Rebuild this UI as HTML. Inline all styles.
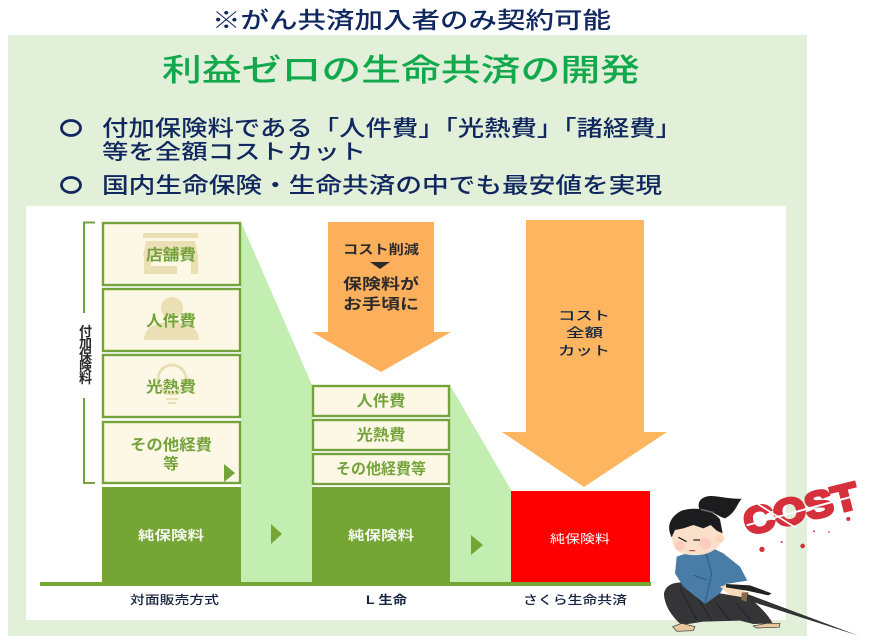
<!DOCTYPE html>
<html lang="ja"><head><meta charset="utf-8"><style>
html,body{margin:0;padding:0;background:#fff}
svg{display:block}
text{font-family:"Liberation Sans","Noto Sans CJK JP",sans-serif}
.n{fill:#10285f;font-weight:500}
.g{fill:#74a33c;font-weight:700}
</style></head><body>
<svg width="870" height="644" viewBox="0 0 870 644" xmlns="http://www.w3.org/2000/svg">
<rect width="870" height="644" fill="#fff"/>
<rect x="8" y="35" width="799" height="601" fill="#e2f0d9"/>
<rect x="26" y="206" width="760" height="414" fill="#fff"/>

<text class="n" x="212" y="28" font-size="23" textLength="399" lengthAdjust="spacingAndGlyphs">※がん共済加入者のみ契約可能</text>
<text x="162" y="81" font-size="31" font-weight="500" fill="#12a84c" textLength="478" lengthAdjust="spacingAndGlyphs">利益ゼロの生命共済の開発</text>
<ellipse cx="71" cy="128" rx="9.500" ry="7.500" fill="none" stroke="#10285f" stroke-width="2.800"/>
<ellipse cx="71" cy="185" rx="9.500" ry="7.500" fill="none" stroke="#10285f" stroke-width="2.800"/>
<text class="n" x="102" y="136" font-size="22" textLength="580" lengthAdjust="spacingAndGlyphs">付加保険料である「人件費」「光熱費」「諸経費」</text>
<text class="n" x="102" y="159" font-size="21" textLength="264" lengthAdjust="spacingAndGlyphs">等を全額コストカット</text>
<text class="n" x="102" y="193" font-size="22" textLength="560" lengthAdjust="spacingAndGlyphs">国内生命保険・生命共済の中でも最安値を実現</text>

<polygon points="241,222 312,385 312,582 241,582" fill="#c3eeb1"/>
<polygon points="450,385 511,490 511,582 450,582" fill="#c3eeb1"/>

<path d="M95 222.500H84V313M84 398V483H95" fill="none" stroke="#74a33c" stroke-width="2"/>
<g font-size="13" font-weight="700" fill="#2a2a2a" text-anchor="middle">
<text x="85.500" y="336">付</text><text x="85.500" y="348">加</text><text x="85.500" y="360">保</text><text x="85.500" y="371">険</text><text x="85.500" y="383">料</text>
</g>

<g fill="#fdf8e6" stroke="#74a33c" stroke-width="2.400">
<rect x="103" y="223" width="137" height="62"/>
<rect x="103" y="289" width="137" height="62"/>
<rect x="103" y="355" width="137" height="62"/>
<rect x="103" y="422" width="137" height="61"/>
<rect x="313" y="386" width="136" height="30"/>
<rect x="313" y="420" width="136" height="30"/>
<rect x="313" y="454" width="136" height="30"/>
</g>
<g fill="#ebdfb6">
<rect x="143" y="233" width="55" height="5"/>
<path d="M146 241h49l3 15h-55z"/>
<path d="M144 256h7v18h-7zM191 256h7v18h-7zM151 266h26v8h-26z"/>
<circle cx="172" cy="308" r="11"/>
<path d="M144 340c0-14 14-18 27-18s28 4 28 18z"/>
<circle cx="172" cy="379" r="14" fill="none" stroke="#ebdfb6" stroke-width="3"/>
<rect x="165" y="393" width="14" height="2"/><rect x="166" y="398" width="12" height="2"/><rect x="168" y="402" width="8" height="2"/>
</g>
<polygon points="224,464 235,473 224,482" fill="#74a33c"/>
<g class="g" font-size="15.500" text-anchor="middle">
<text class="g" x="171" y="260" textLength="50" lengthAdjust="spacingAndGlyphs">店舗費</text>
<text class="g" x="171" y="326" textLength="50" lengthAdjust="spacingAndGlyphs">人件費</text>
<text class="g" x="171" y="392" textLength="50" lengthAdjust="spacingAndGlyphs">光熱費</text>
<text class="g" x="171" y="450" textLength="82" lengthAdjust="spacingAndGlyphs">その他経費</text>
<text class="g" x="171" y="469">等</text>
<text class="g" x="381" y="406" textLength="49" lengthAdjust="spacingAndGlyphs">人件費</text>
<text class="g" x="381" y="440" textLength="49" lengthAdjust="spacingAndGlyphs">光熱費</text>
<text class="g" x="381" y="474" textLength="90" lengthAdjust="spacingAndGlyphs">その他経費等</text>
</g>

<rect x="102" y="487" width="139" height="96" fill="#75a534"/>
<rect x="312" y="487" width="138" height="96" fill="#75a534"/>
<rect x="511" y="491" width="139" height="92" fill="#ff0000"/>
<rect x="40" y="582" width="611" height="4" fill="#75a534"/>
<polygon points="271,524 282,534 271,544" fill="#75a534"/>
<polygon points="471,535 483,545 471,555" fill="#75a534"/>
<g fill="#fff" font-size="13" font-weight="700" opacity=".92">
<text x="138" y="540" textLength="66" lengthAdjust="spacingAndGlyphs">純保険料</text>
<text x="348" y="540" textLength="66" lengthAdjust="spacingAndGlyphs">純保険料</text>
</g>
<text x="550" y="543" font-size="12" fill="#fff" textLength="60" lengthAdjust="spacingAndGlyphs">純保険料</text>

<polygon points="328,222 434,222 434,332 451,332 381,372 312,332 328,332" fill="#fdb05c"/>
<polygon points="526,220 644,220 644,432 667,432 584,487 502,432 526,432" fill="#fdb65f"/>
<g fill="#2b2b2b" font-weight="700" text-anchor="middle">
<text x="381" y="254" font-size="13" textLength="76" lengthAdjust="spacingAndGlyphs">コスト削減</text>
<polygon points="370,262 390,262 380,269"/>
<text x="381" y="289" font-size="15" textLength="76" lengthAdjust="spacingAndGlyphs">保険料が</text>
<text x="381" y="309" font-size="15" textLength="76" lengthAdjust="spacingAndGlyphs">お手頃に</text>
</g>
<g fill="#14233f" font-size="12.500" font-weight="500">
<text x="558" y="320" textLength="52" lengthAdjust="spacingAndGlyphs">コスト</text>
<text x="566" y="337" textLength="37" lengthAdjust="spacingAndGlyphs">全額</text>
<text x="558" y="355" textLength="52" lengthAdjust="spacingAndGlyphs">カット</text>
</g>

<g fill="#14233f" font-size="12" font-weight="500">
<text x="130" y="604" textLength="89" lengthAdjust="spacingAndGlyphs">対面販売方式</text>
<text x="366" y="604" font-weight="700" textLength="41" lengthAdjust="spacingAndGlyphs">L 生命</text>
<text x="523" y="604" textLength="104" lengthAdjust="spacingAndGlyphs">さくら生命共済</text>
</g>

<g transform="translate(640 460) scale(.3333)">
<!-- COST -->
<g fill="#d5303c" stroke="#d5303c" stroke-width="9" font-weight="700" font-size="112">
<text x="322" y="226" transform="rotate(-14 322 226)" textLength="350" lengthAdjust="spacingAndGlyphs">COST</text>
</g>
<path d="M320 196L690 95" stroke="#fff" stroke-width="6"/>
<path d="M350 130L470 205" stroke="#fff" stroke-width="5"/>
<g fill="#d5303c">
<circle cx="366" cy="268" r="8"/><circle cx="488" cy="258" r="7"/><circle cx="625" cy="177" r="6"/><circle cx="425" cy="246" r="3"/><circle cx="522" cy="214" r="3"/><circle cx="567" cy="216" r="2.500"/>
</g>
<!-- hakama -->
<path d="M72 400C78 372 105 365 135 368L240 400 330 415C360 440 385 465 398 490L340 492 300 482 190 485 125 495C90 465 72 430 72 400Z" fill="#353538"/>
<g stroke="#232325" stroke-width="3" fill="none"><path d="M120 385L170 480M170 410L215 482M230 430L270 482M290 430L330 480"/></g>
<!-- sandals -->
<path d="M98 500L125 490 165 500 160 512 110 514Z" fill="#e8c79c" stroke="#333" stroke-width="2"/>
<path d="M340 498L380 490 420 490 418 502 350 504Z" fill="#e8c79c" stroke="#333" stroke-width="2"/>
<!-- body -->
<path d="M110 290L205 258 250 280 300 320 322 362 258 372 240 400 195 432 130 380 105 340Z" fill="#4a7ca8"/>
<path d="M195 270L215 340M160 345L200 360M215 340L195 430" stroke="#2d5a85" stroke-width="3" fill="none"/>
<!-- hands -->
<path d="M240 380L268 372 312 388 316 410 270 405Z" fill="#f8d9bb"/>
<!-- sword -->
<path d="M258 372L330 376 395 400 385 406 320 392 258 382Z" fill="#222"/>
<path d="M305 398L325 396 320 425 304 420Z" fill="#8a6a4a"/>
<path d="M322 402L655 527 320 420Z" fill="#333"/>
<!-- head -->
<path d="M92 215C95 190 130 165 180 165 225 168 248 205 248 225 250 250 230 272 195 282 150 292 108 280 100 255Z" fill="#fbe0c9"/>
<circle cx="240" cy="236" r="12" fill="#fbd5b5"/>
<circle cx="120" cy="258" r="15" fill="#f9c4bc" opacity=".7"/><circle cx="195" cy="250" r="18" fill="#f9c4bc" opacity=".7"/>
<path d="M115 232L140 245M180 240L160 240" stroke="#222" stroke-width="4"/>
<path d="M148 272h18" stroke="#a33" stroke-width="3"/>
<!-- hair -->
<path d="M95 232C78 200 90 170 125 152 165 138 220 150 240 178L248 220 230 212 212 195 190 205 160 195 130 205 105 210Z" fill="#1c1c1e"/>
<path d="M178 148C170 125 185 108 215 108 245 110 275 118 305 116 290 135 285 160 255 175 235 170 215 150 185 150Z" fill="#1c1c1e"/>
<path d="M182 148L222 158" stroke="#666" stroke-width="5"/>
</g>
</svg>
</body></html>
